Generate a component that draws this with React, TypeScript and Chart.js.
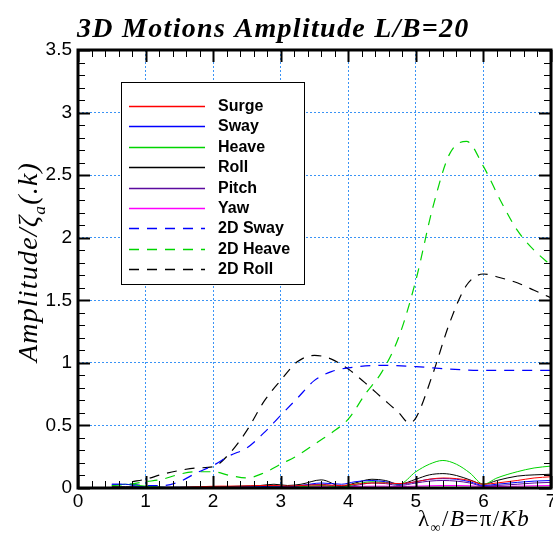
import React, { useEffect, useRef } from 'react';
import { Chart, registerables } from 'chart.js';
Chart.register(...registerables);

// ---- data ----
const seriesNames = ['Surge', 'Sway', 'Heave', 'Roll', 'Pitch', 'Yaw', '2D Sway', '2D Heave', '2D Roll'];

const x3D = [0.5, 0.7, 0.9, 1.1, 1.3, 1.5, 1.8, 2.1, 2.4, 2.7, 2.9, 3.1, 3.3, 3.6, 3.9, 4.1, 4.35, 4.55, 4.75, 5.0, 5.2, 5.4, 5.6, 5.8, 6.0, 6.2, 6.5, 6.75, 7.0];
const surge = [0, 0, 0, 0, 0.002, 0.004, 0.01, 0.015, 0.015, 0.02, 0.02, 0.015, 0.02, 0.025, 0.02, 0.03, 0.04, 0.04, 0.035, 0.05, 0.07, 0.08, 0.075, 0.06, 0.03, 0.04, 0.06, 0.08, 0.09];
const sway = [0.03, 0.03, 0.01, 0.005, 0.005, 0.005, 0.005, 0.005, 0.008, 0.01, 0.015, 0.01, 0.02, 0.04, 0.03, 0.05, 0.06, 0.05, 0.03, 0.05, 0.07, 0.075, 0.07, 0.05, 0.02, 0.03, 0.045, 0.055, 0.06];
const heave = [0.02, 0.03, 0.02, 0.01, 0.005, 0.005, 0.005, 0.005, 0.005, 0.008, 0.01, 0.008, 0.01, 0.02, 0.005, 0.03, 0.05, 0.045, 0.03, 0.13, 0.19, 0.22, 0.19, 0.12, 0.03, 0.08, 0.13, 0.16, 0.175];
const roll = [0.01, 0.01, 0.01, 0.01, 0.005, 0.005, 0.01, 0.01, 0.015, 0.02, 0.03, 0.02, 0.03, 0.065, 0.015, 0.04, 0.07, 0.06, 0.03, 0.07, 0.105, 0.115, 0.1, 0.065, 0.03, 0.06, 0.095, 0.105, 0.11];
const pitch = [0.005, 0.005, 0.005, 0.005, 0.005, 0.005, 0.005, 0.005, 0.005, 0.01, 0.015, 0.01, 0.02, 0.03, 0.01, 0.02, 0.04, 0.035, 0.02, 0.04, 0.055, 0.06, 0.055, 0.04, 0.015, 0.02, 0.03, 0.04, 0.045];
const yaw = [0.005, 0.005, 0.005, 0.005, 0.005, 0.005, 0.005, 0.008, 0.01, 0.012, 0.01, 0.008, 0.01, 0.012, 0.01, 0.012, 0.015, 0.015, 0.012, 0.015, 0.018, 0.02, 0.02, 0.018, 0.012, 0.012, 0.015, 0.018, 0.02];

const x2DSway = [0.5, 0.75, 1.0, 1.25, 1.5, 1.75, 2.0, 2.25, 2.5, 2.75, 3.0, 3.25, 3.5, 3.75, 4.0, 4.5, 5.0, 5.5, 6.0, 6.5, 7.0];
const sway2D = [0.03, 0.03, 0.02, 0.02, 0.05, 0.12, 0.18, 0.26, 0.32, 0.44, 0.58, 0.72, 0.86, 0.93, 0.96, 0.98, 0.97, 0.95, 0.94, 0.94, 0.94];

const x2DHeave = [0.5, 0.75, 1.0, 1.25, 1.5, 1.75, 2.0, 2.25, 2.5, 2.75, 3.0, 3.25, 3.5, 3.75, 4.0, 4.25, 4.5, 4.75, 5.0, 5.25, 5.5, 5.75, 6.0, 6.25, 6.5, 6.75, 7.0];
const heave2D = [0.02, 0.03, 0.05, 0.07, 0.11, 0.13, 0.13, 0.10, 0.08, 0.12, 0.19, 0.26, 0.35, 0.44, 0.55, 0.75, 0.93, 1.21, 1.66, 2.24, 2.67, 2.77, 2.57, 2.30, 2.06, 1.90, 1.78];

const x2DRoll = [0.8, 1.0, 1.25, 1.5, 1.75, 2.0, 2.25, 2.5, 2.75, 3.0, 3.25, 3.5, 3.75, 4.0, 4.25, 4.5, 4.75, 4.9, 5.0, 5.25, 5.5, 5.75, 6.0, 6.25, 6.5, 6.75, 7.0];
const roll2D = [0.05, 0.07, 0.11, 0.14, 0.16, 0.17, 0.28, 0.46, 0.69, 0.86, 1.01, 1.06, 1.03, 0.95, 0.84, 0.72, 0.60, 0.52, 0.56, 0.91, 1.32, 1.62, 1.71, 1.68, 1.64, 1.58, 1.52];

const xMin = 0, xMax = 7, xStep = 1, xMinor = 0.2;
const yMin = 0, yMax = 3.5, yStep = 0.5, yMinor = 0.1;

const titleText = '3D Motions Amplitude L/B=20';

// ---- styling ----
const SANS = "'Liberation Sans', Arial, sans-serif";
const SERIF = "'Liberation Serif', 'Times New Roman', serif";
const DASH = [10, 8];

const pts = (xs: number[], ys: number[]) => xs.map((x, i) => ({ x, y: ys[i] }));

type Piece = { t: string; italic?: boolean; bold?: boolean; sub?: boolean };

function setFont(ctx: CanvasRenderingContext2D, p: Piece, size: number) {
  const s = p.sub ? size * 0.62 : size;
  ctx.font = `${p.italic ? 'italic ' : ''}${p.bold ? 'bold ' : ''}${s}px ${SERIF}`;
}
function piecesWidth(ctx: CanvasRenderingContext2D, pieces: Piece[], size: number) {
  let w = 0;
  for (const p of pieces) { setFont(ctx, p, size); w += ctx.measureText(p.t).width; }
  return w;
}
function drawPieces(ctx: CanvasRenderingContext2D, pieces: Piece[], x: number, y: number, size: number) {
  for (const p of pieces) {
    setFont(ctx, p, size);
    ctx.fillText(p.t, x, y + (p.sub ? size * 0.28 : 0));
    x += ctx.measureText(p.t).width;
  }
}

const overlay = {
  id: 'overlay',
  afterDraw(chart: any) {
    const { ctx, chartArea: ca, scales } = chart;
    const xs = scales.x, ys = scales.y;
    ctx.save();
    ctx.strokeStyle = '#000';
    // x ticks (inward, top & bottom)
    const nx = Math.round((xMax - xMin) / xMinor);
    for (let i = 0; i <= nx; i++) {
      const v = xMin + i * xMinor;
      const px = Math.round(xs.getPixelForValue(v)) + 0.5;
      const major = i % Math.round(xStep / xMinor) === 0;
      const len = major ? 12 : 7;
      ctx.lineWidth = major ? 2 : 1;
      ctx.beginPath();
      ctx.moveTo(px, ca.bottom); ctx.lineTo(px, ca.bottom - len);
      ctx.moveTo(px, ca.top); ctx.lineTo(px, ca.top + len);
      ctx.stroke();
    }
    const ny = Math.round((yMax - yMin) / yMinor);
    for (let i = 0; i <= ny; i++) {
      const v = yMin + i * yMinor;
      const py = Math.round(ys.getPixelForValue(v)) + 0.5;
      const major = i % Math.round(yStep / yMinor) === 0;
      const len = major ? 12 : 7;
      ctx.lineWidth = major ? 2 : 1;
      ctx.beginPath();
      ctx.moveTo(ca.left, py); ctx.lineTo(ca.left + len, py);
      ctx.moveTo(ca.right, py); ctx.lineTo(ca.right - len, py);
      ctx.stroke();
    }
    // frame
    ctx.lineWidth = 3;
    ctx.strokeRect(ca.left, ca.top, ca.right - ca.left, ca.bottom - ca.top);

    // legend
    const lx = 121, ly = 82, lw = 183, lh = 202;
    ctx.fillStyle = '#fff';
    ctx.fillRect(lx, ly, lw, lh);
    ctx.lineWidth = 1;
    ctx.strokeStyle = '#000';
    ctx.strokeRect(lx + 0.5, ly + 0.5, lw, lh);
    ctx.textBaseline = 'middle';
    ctx.textAlign = 'left';
    ctx.font = `bold 16px ${SANS}`;
    chart.data.datasets.forEach((ds: any, i: number) => {
      const yy = Math.round(106 + i * 20.4) + 0.5;
      ctx.strokeStyle = ds.borderColor;
      ctx.lineWidth = 1.3;
      ctx.setLineDash(ds.borderDash || []);
      ctx.beginPath();
      ctx.moveTo(129, yy); ctx.lineTo(205, yy);
      ctx.stroke();
      ctx.setLineDash([]);
      ctx.fillStyle = '#000';
      ctx.fillText(ds.label, 218, yy);
    });

    // title
    ctx.textBaseline = 'alphabetic';
    ctx.fillStyle = '#000';
    (ctx as any).letterSpacing = '1.3px';
    ctx.font = `italic bold 28px ${SERIF}`;
    ctx.fillText(titleText, 77, 37);

    // y axis title
    const yPieces: Piece[] = [
      { t: 'Amplitude/', italic: true },
      { t: 'ζ', italic: true },
      { t: 'a', italic: true, sub: true },
      { t: '(.', italic: true },
      { t: 'k', italic: true },
      { t: ')', italic: true },
    ];
    const ySize = 28;
    (ctx as any).letterSpacing = '1.2px';
    const yw = piecesWidth(ctx, yPieces, ySize);
    ctx.save();
    ctx.translate(37, 262);
    ctx.rotate(-Math.PI / 2);
    drawPieces(ctx, yPieces, -yw / 2, 0, ySize);
    ctx.restore();

    // x axis title
    const xPieces: Piece[] = [
      { t: 'λ' },
      { t: '∞', sub: true },
      { t: '/' },
      { t: 'B', italic: true },
      { t: '=' },
      { t: 'π' },
      { t: '/' },
      { t: 'Kb', italic: true },
    ];
    (ctx as any).letterSpacing = '1.4px';
    drawPieces(ctx, xPieces, 418, 526, 23);
    (ctx as any).letterSpacing = '0px';
    ctx.restore();
  },
};

export default function App() {
  const ref = useRef<HTMLCanvasElement>(null);
  useEffect(() => {
    document.body.style.margin = '0';
    const c = new Chart(ref.current!, {
      type: 'scatter',
      data: {
        datasets: [
          { label: seriesNames[0], data: pts(x3D, surge), borderColor: '#ff0000' },
          { label: seriesNames[1], data: pts(x3D, sway), borderColor: '#0000ff' },
          { label: seriesNames[2], data: pts(x3D, heave), borderColor: '#00d400' },
          { label: seriesNames[3], data: pts(x3D, roll), borderColor: '#000000' },
          { label: seriesNames[4], data: pts(x3D, pitch), borderColor: '#5c0a9e' },
          { label: seriesNames[5], data: pts(x3D, yaw), borderColor: '#ff00ff' },
          { label: seriesNames[6], data: pts(x2DSway, sway2D), borderColor: '#0000ff', borderDash: DASH },
          { label: seriesNames[7], data: pts(x2DHeave, heave2D), borderColor: '#00d400', borderDash: DASH },
          { label: seriesNames[8], data: pts(x2DRoll, roll2D), borderColor: '#000000', borderDash: DASH },
        ].map((d: any) => ({
          ...d,
          showLine: true,
          pointRadius: 0,
          borderWidth: d.borderDash ? 1.2 : 1,
          cubicInterpolationMode: 'monotone',
          fill: false,
        })),
      },
      options: {
        animation: false,
        responsive: false,
        events: [],
        layout: { padding: { top: 50, right: 2, left: 0, bottom: 0 } },
        plugins: { legend: { display: false }, title: { display: false }, tooltip: { enabled: false } },
        scales: {
          x: {
            type: 'linear',
            min: xMin,
            max: xMax,
            afterFit(s: any) { s.height = 46; s.paddingLeft = 0; s.paddingRight = 0; },
            ticks: { stepSize: xStep, font: { family: SANS, size: 19 }, color: '#000', padding: 2, maxRotation: 0, autoSkip: false, callback: (v: any) => String(v) },
            grid: { color: '#3a93f5', lineWidth: 1, drawTicks: false },
            border: { display: false, dash: [2, 2] },
          },
          y: {
            type: 'linear',
            min: yMin,
            max: yMax,
            afterFit(s: any) { s.width = 78; s.paddingTop = 0; s.paddingBottom = 0; },
            ticks: { stepSize: yStep, font: { family: SANS, size: 19 }, color: '#000', padding: 6, callback: (v: any) => String(v) },
            grid: { color: '#3a93f5', lineWidth: 1, drawTicks: false },
            border: { display: false, dash: [2, 2] },
          },
        },
      },
      plugins: [overlay],
    } as any);
    return () => c.destroy();
  }, []);
  return (
    <div style={{ position: 'absolute', left: 0, top: 0, width: 553, height: 534, background: '#fff' }}>
      <canvas ref={ref} width={553} height={534} />
    </div>
  );
}
